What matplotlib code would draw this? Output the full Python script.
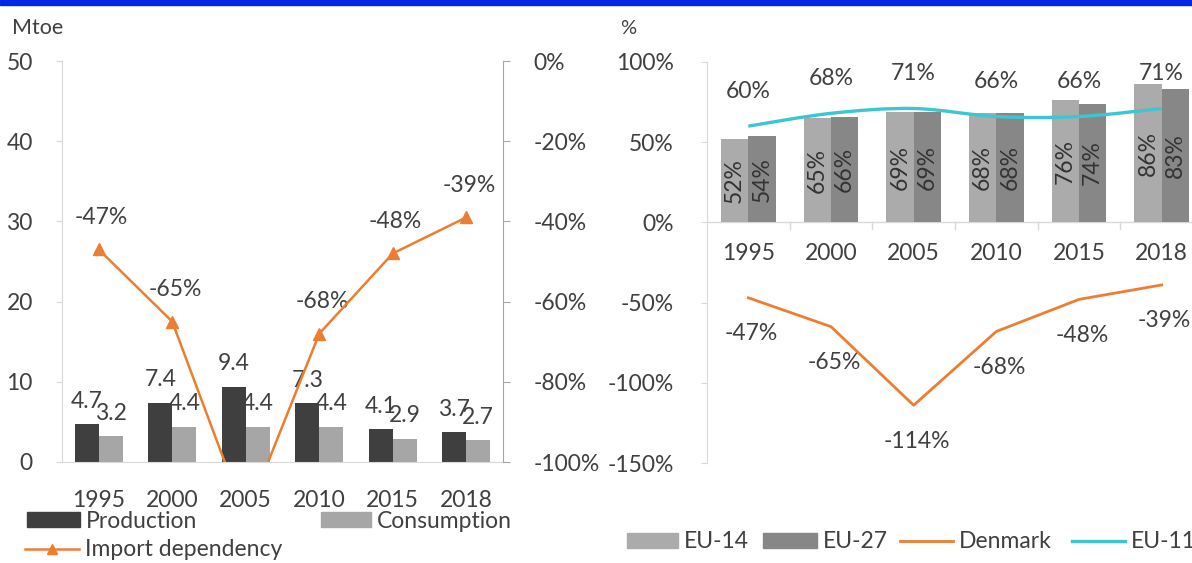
import numpy as np
import matplotlib
matplotlib.use('Agg')
import matplotlib.pyplot as plt
from matplotlib.path import Path
from matplotlib.patches import PathPatch, Rectangle, Patch
from matplotlib.lines import Line2D

# ---------------- data ----------------
years = ['1995', '2000', '2005', '2010', '2015', '2018']
production = [4.7, 7.4, 9.4, 7.3, 4.1, 3.7]
consumption = [3.2, 4.4, 4.4, 4.4, 2.9, 2.7]
import_dependency = [-47, -65, -114, -68, -48, -39]
eu14 = [52, 65, 69, 68, 76, 86]
eu27 = [54, 66, 69, 68, 74, 83]
denmark = [-47, -65, -114, -68, -48, -39]
eu11 = [60, 68, 71, 66, 66, 71]
left_yticks = [0, 10, 20, 30, 40, 50]
left_y2ticks = [0, -20, -40, -60, -80, -100]
right_yticks = [100, 50, 0, -50, -100, -150]

# ---------------- style ----------------
W, H = 1192, 563
FS = 16.5
plt.rcParams['font.family'] = ['Lato', 'DejaVu Sans']
plt.rcParams['font.size'] = FS
TXT = '#404040'
C_PROD = '#3f3f3f'
C_CONS = '#a6a6a6'
C_EU14 = '#ababab'
C_EU27 = '#878787'
ORANGE = '#ED7D31'
CYAN = '#3cc6d2'
FAINT = '#d9d9d9'

fig = plt.figure(figsize=(W / 100, H / 100), dpi=100)


def rect(x0, y0, x1, y1):
    return [x0 / W, 1 - y1 / H, (x1 - x0) / W, (y1 - y0) / H]


fig.add_artist(Rectangle((0, 1 - 5 / H), 1, 5 / H, transform=fig.transFigure,
                         color='#0028E6', zorder=10))

# ---------------- left chart ----------------
x = np.arange(len(years))
w = 0.325
ax1 = fig.add_axes(rect(62, 61, 503, 462))
ax1.bar(x - w / 2, production, w, color=C_PROD, zorder=2)
ax1.bar(x + w / 2, consumption, w, color=C_CONS, zorder=2)
ax1.set_xlim(-0.5, 5.5)
ax1.set_ylim(0, 50)
ax1.set_yticks(left_yticks)
ax1.set_xticks(x, years)
for s in ['top', 'right']:
    ax1.spines[s].set_visible(False)
for s in ['left', 'bottom']:
    ax1.spines[s].set_color(FAINT)
ax1.tick_params(axis='y', length=4, color=FAINT, pad=17, labelcolor=TXT)
ax1.tick_params(axis='x', length=0, pad=20, labelcolor=TXT)
for xi, v in zip(x - w / 2, production):
    ax1.annotate(f'{v}', (xi, v), xytext=(0, 23), textcoords='offset pixels',
                 ha='center', va='center', color=TXT, zorder=3)
for xi, v in zip(x + w / 2, consumption):
    ax1.annotate(f'{v}', (xi, v), xytext=(0, 23), textcoords='offset pixels',
                 ha='center', va='center', color=TXT, zorder=3)

ax2 = ax1.twinx()
ax2.set_ylim(-100, 0)
ax2.plot(x, import_dependency, color=ORANGE, lw=1.8, marker='^', ms=8, zorder=4)
ax2.set_yticks(left_y2ticks, [f'{v}%' for v in left_y2ticks])
for s in ['top', 'left', 'bottom']:
    ax2.spines[s].set_visible(False)
ax2.spines['right'].set_color('#a6a6a6')
ax2.tick_params(axis='y', length=5, color='#a6a6a6', pad=17, labelcolor=TXT)
for xi, v in zip(x, import_dependency):
    ax2.annotate(f'{v}%', (xi, v), xytext=(3, 32), textcoords='offset pixels',
                 ha='center', va='center', color=TXT)

fig.text(12 / W, 1 - 28 / H, 'Mtoe', ha='left', va='center', color=TXT, fontsize=FS - 1)

# ---------------- right chart ----------------
ax3 = fig.add_axes(rect(707, 62, 1203, 463))
w2 = 0.33
ax3.bar(x - w2 / 2, eu14, w2, color=C_EU14, zorder=2)
ax3.bar(x + w2 / 2, eu27, w2, color=C_EU27, zorder=2)
ax3.set_xlim(-0.5, 5.5)
ax3.set_ylim(-150, 100)
ax3.set_yticks(right_yticks, [f'{v}%' for v in right_yticks])
ax3.set_xticks([])
for s in ['top', 'right', 'bottom']:
    ax3.spines[s].set_visible(False)
ax3.spines['left'].set_color(FAINT)
ax3.tick_params(axis='y', length=4, color=FAINT, pad=20, labelcolor=TXT)
ax3.axhline(0, color=FAINT, lw=1, zorder=1)
for b in np.arange(0.5, 5.5, 1.0):
    ax3.plot([b, b], [0, -4], color=FAINT, lw=1, clip_on=False)
for xi, yl in zip(x, years):
    ax3.annotate(yl, (xi, 0), xytext=(0, -31), textcoords='offset pixels',
                 ha='center', va='center', color=TXT)
for xi, v in zip(x - w2 / 2, eu14):
    ax3.text(xi, v / 2, f'{v}%', rotation=90, ha='center', va='center', color='#333333', zorder=3)
for xi, v in zip(x + w2 / 2, eu27):
    ax3.text(xi, v / 2, f'{v}%', rotation=90, ha='center', va='center', color='#333333', zorder=3)

# Denmark line
ax3.plot(x, denmark, color=ORANGE, lw=2.0, zorder=4)
for xi, v in zip(x, denmark):
    ax3.annotate(f'{v}%', (xi, v), xytext=(3, -36), textcoords='offset pixels',
                 ha='center', va='center', color=TXT)

# EU-11 smoothed line (Bezier through the data points)
pts = np.column_stack([x, eu11]).astype(float)
ext = np.vstack([pts[0], pts, pts[-1]])
verts = [tuple(pts[0])]
codes = [Path.MOVETO]
for i in range(len(pts) - 1):
    p0, p1, p2, p3 = ext[i], ext[i + 1], ext[i + 2], ext[i + 3]
    c1 = p1 + (p2 - p0) / 6
    c2 = p2 - (p3 - p1) / 6
    verts += [tuple(c1), tuple(c2), tuple(p2)]
    codes += [Path.CURVE4] * 3
ax3.add_patch(PathPatch(Path(verts, codes), facecolor='none', edgecolor=CYAN, lw=2.4, zorder=5))
for xi, v in zip(x, eu11):
    ax3.annotate(f'{v}%', (xi, v), xytext=(0, 35), textcoords='offset pixels',
                 ha='center', va='center', color=TXT, zorder=6)

fig.text(620 / W, 1 - 28 / H, '%', ha='left', va='center', color=TXT, fontsize=FS - 2)


# ---------------- legends ----------------
def leg(handle, label, px, py, hl):
    fig.legend([handle], [label], loc='center left', bbox_to_anchor=(px / W, 1 - py / H),
               frameon=False, borderpad=0, borderaxespad=0, handlelength=hl,
               handletextpad=0.25, handleheight=0.65, labelcolor=TXT, fontsize=FS)


em = FS * 100 / 72
leg(Patch(color=C_PROD), 'Production', 27, 521, 53 / em)
leg(Patch(color=C_CONS), 'Consumption', 321, 521, 50 / em)
leg(Line2D([], [], color=ORANGE, lw=1.8, marker='^', ms=7), 'Import dependency', 25, 550, 54 / em)
leg(Patch(color=C_EU14), 'EU-14', 627, 542, 51 / em)
leg(Patch(color=C_EU27), 'EU-27', 763, 542, 54 / em)
leg(Line2D([], [], color=ORANGE, lw=2.0), 'Denmark', 900, 542, 53 / em)
leg(Line2D([], [], color=CYAN, lw=2.4), 'EU-11', 1072, 542, 53 / em)

fig.savefig('out.png', dpi=100)
